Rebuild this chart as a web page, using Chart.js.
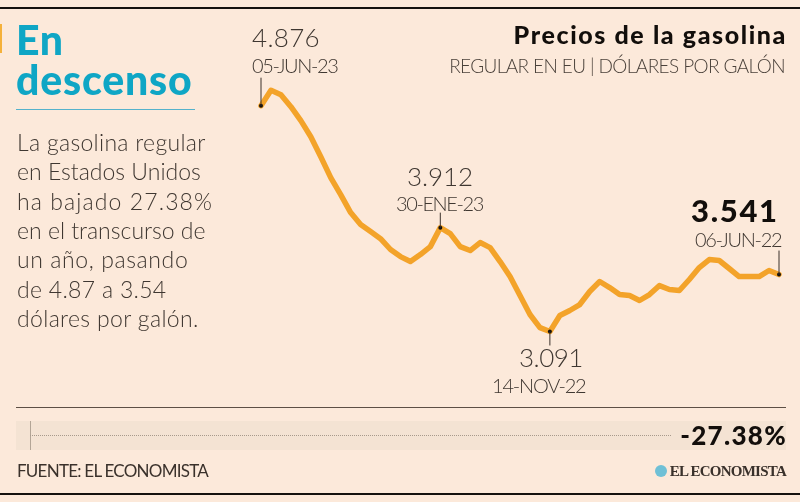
<!DOCTYPE html>
<html lang="es">
<head>
<meta charset="utf-8">
<title>Precios de la gasolina</title>
<script src="https://cdn.jsdelivr.net/npm/chart.js@4"></script>
<style>
  html, body { margin: 0; padding: 0; background: #fce9da; }
  #page { position: relative; width: 800px; height: 502px; overflow: hidden; background: #fce9da; font-family: Lato, sans-serif; }
  #priceChart { position: absolute; left: 0; top: 0; }
  .t { position: absolute; white-space: nowrap; line-height: 1.2; }
  .box { position: absolute; }
</style>
</head>
<body>
<div id="page">
  <canvas id="priceChart" width="800" height="502"></canvas>
  <div class="box" style="left:0;top:7px;width:800px;height:2px;background:#15110e"></div>
  <div class="box" style="left:0;top:493px;width:800px;height:2px;background:#15110e"></div>
  <div class="box" style="left:0;top:24px;width:2px;height:29px;background:#f5b13a"></div>
  <div class="box" style="left:16px;top:109px;width:179px;height:1px;background:#55b2cb"></div>
  <div class="box" style="left:16px;top:407px;width:770px;height:1px;background:#5d4f45"></div>
  <div class="box" style="left:16px;top:421px;width:770px;height:29px;background:#f4e3d3"></div>
  <div class="box" style="left:30px;top:421px;width:1px;height:29px;background:#b3a596"></div>
  <div class="box" style="left:30px;top:435px;width:641px;height:0;border-top:1px dotted #a89a8c"></div>
  <div class="box" style="left:655px;top:465px;width:12px;height:12px;border-radius:50%;background:#6fc0d6"></div>
</div>
<script>
// weekly regular gasoline price, newest first (as in the original chart)
const weeks = [
  "05-JUN-23", "29-MAY-23", "22-MAY-23", "15-MAY-23", "08-MAY-23", "01-MAY-23", "24-ABR-23", "17-ABR-23", "10-ABR-23",
  "03-ABR-23", "27-MAR-23", "20-MAR-23", "13-MAR-23", "06-MAR-23", "27-FEB-23", "20-FEB-23", "13-FEB-23", "06-FEB-23",
  "30-ENE-23", "23-ENE-23", "16-ENE-23", "09-ENE-23", "02-ENE-23", "26-DIC-22", "19-DIC-22", "12-DIC-22", "05-DIC-22",
  "28-NOV-22", "21-NOV-22", "14-NOV-22", "07-NOV-22", "31-OCT-22", "24-OCT-22", "17-OCT-22", "10-OCT-22", "03-OCT-22",
  "26-SEP-22", "19-SEP-22", "12-SEP-22", "05-SEP-22", "29-AGO-22", "22-AGO-22", "15-AGO-22", "08-AGO-22", "01-AGO-22",
  "25-JUL-22", "18-JUL-22", "11-JUL-22", "04-JUL-22", "27-JUN-22", "20-JUN-22", "13-JUN-22", "06-JUN-22"
];
const prices = [
  4.876, 4.998, 4.963, 4.868, 4.758, 4.631, 4.473, 4.307, 4.173,
  4.031, 3.936, 3.881, 3.825, 3.739, 3.683, 3.644, 3.699, 3.762,
  3.912, 3.865, 3.762, 3.731, 3.794, 3.754, 3.644, 3.525, 3.375,
  3.225, 3.122, 3.091, 3.217, 3.257, 3.304, 3.407, 3.486, 3.438,
  3.383, 3.375, 3.336, 3.383, 3.454, 3.423, 3.415, 3.502, 3.596,
  3.660, 3.652, 3.589, 3.525, 3.525, 3.525, 3.573, 3.541
];
const markedWeeks = ["05-JUN-23", "30-ENE-23", "14-NOV-22", "06-JUN-22"];
const leaderLengths = [-28, -15, 14, -24];

// text helper: x is the left edge (or right edge), y is the baseline
function addText(text, x, y, size, weight, color, align, spacing) {
  const el = document.createElement("div");
  el.className = "t";
  el.textContent = text;
  el.style.top = (y - 0.987 * size) + "px";
  if (align === "right") el.style.right = (800 - x) + "px";
  else el.style.left = x + "px";
  el.style.fontSize = size + "px";
  el.style.fontWeight = weight;
  el.style.color = color;
  if (spacing) el.style.letterSpacing = spacing + "px";
  document.getElementById("page").appendChild(el);
  return el;
}

addText("En", 16, 55, 41, 900, "#0fa6c5", "left", 0.5);
addText("descenso", 16, 95, 41, 900, "#0fa6c5", "left", 0.8);

const bodyLines = [
  "La gasolina regular", "en Estados Unidos", "ha bajado 27.38%", "en el transcurso de",
  "un año, pasando", "de 4.87 a 3.54", "dólares por galón."
];
const bodyBaselines = [152, 181, 211, 240, 269, 299, 328];
const bodySpacing = [0.3, 0, 1.1, 0, 0.6, 0.3, 0.35];
bodyLines.forEach((line, i) => addText(line, 17, bodyBaselines[i], 23, 300, "#3f3731", "left", bodySpacing[i]));

addText("Precios de la gasolina", 787, 44, 25, 900, "#120e0b", "right", 1.6);
addText("REGULAR EN EU | DÓLARES POR GALÓN", 785, 74, 19, 300, "#4a413a", "right", -0.6);

addText("4.876", 252, 48, 26, 300, "#3f3731", "left", 0.3);
addText("05-JUN-23", 252, 73, 20, 300, "#3f3731", "left", -1.4);
addText("3.912", 407, 187, 26, 300, "#3f3731", "left", -0.1);
addText("30-ENE-23", 396, 211, 20, 300, "#3f3731", "left", -1.4);
addText("3.091", 519, 368, 26, 300, "#3f3731", "left", -0.5);
addText("14-NOV-22", 492, 393, 20, 300, "#3f3731", "left", -1.2);
addText("3.541", 691, 223, 31, 900, "#120e0b", "left", 1.7);
addText("06-JUN-22", 695, 247, 20, 300, "#3f3731", "left", -1.3);

addText("-27.38%", 787, 446, 26, 900, "#120e0b", "right", 1.3);
addText("FUENTE: EL ECONOMISTA", 17, 478, 17, 400, "#3a312b", "left", -0.75);
const logo = addText("EL ECONOMISTA", 786, 477, 15, 700, "#3a312b", "right", -0.75);
logo.style.fontFamily = "'Liberation Serif', serif";

// little black leaders from the marked points to their labels
const leaders = {
  id: "leaders",
  afterDatasetsDraw(chart) {
    const { ctx, scales } = chart;
    ctx.save();
    ctx.strokeStyle = "#3a312b";
    ctx.lineWidth = 1;
    markedWeeks.forEach((week, i) => {
      const idx = weeks.indexOf(week);
      const x = scales.x.getPixelForValue(idx);
      const y = scales.y.getPixelForValue(prices[idx]);
      ctx.beginPath();
      ctx.moveTo(x, y);
      ctx.lineTo(x, y + leaderLengths[i]);
      ctx.stroke();
    });
    ctx.restore();
  }
};

const ctx = document.getElementById("priceChart").getContext("2d");
new Chart(ctx, {
  type: "line",
  data: {
    labels: weeks,
    datasets: [{
      label: "Precio regular (dólares por galón)",
      data: prices,
      borderColor: "#f3a32a",
      borderWidth: 5.5,
      borderJoinStyle: "round",
      borderCapStyle: "round",
      tension: 0,
      clip: false,
      pointRadius: (c) => markedWeeks.includes(weeks[c.dataIndex]) ? 2 : 0,
      pointBackgroundColor: "#15110e",
      pointBorderWidth: 0
    }]
  },
  options: {
    responsive: false,
    animation: false,
    layout: { padding: { left: 261, right: 21, top: 90, bottom: 159 } },
    plugins: { legend: { display: false }, tooltip: { enabled: false } },
    scales: {
      x: { display: false, offset: false },
      y: { display: false, min: 3, max: 5 }
    }
  },
  plugins: [leaders]
});
</script>
</body>
</html>
